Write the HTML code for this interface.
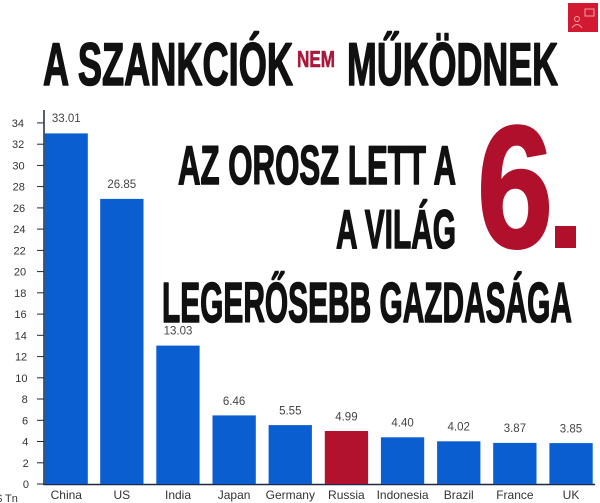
<!DOCTYPE html>
<html>
<head>
<meta charset="utf-8">
<style>
  html, body { margin: 0; padding: 0; background: #ffffff; }
  body { width: 600px; height: 503px; overflow: hidden; }
  svg { display: block; }
  .big { font-family: "Liberation Sans", "DejaVu Sans", sans-serif; font-weight: bold; }
  .lbl { font-family: "Liberation Sans", "DejaVu Sans", sans-serif; }
</style>
</head>
<body>
<svg width="600" height="503" viewBox="0 0 600 503" xmlns="http://www.w3.org/2000/svg">
  <rect width="600" height="503" fill="#ffffff"/>

  <!-- Top-right red icon -->
  <rect x="568" y="3" width="30" height="29" fill="#d11a31"/>
  <rect x="585" y="9" width="9" height="7" fill="none" stroke="#f0a0a8" stroke-width="1"/>
  <circle cx="577" cy="19" r="2.5" fill="none" stroke="#f0a0a8" stroke-width="1"/>
  <path d="M572 28 q5 -7 10 0" fill="none" stroke="#f0a0a8" stroke-width="1"/>

  <!-- Title -->
  <text class="big" x="43" y="85" font-size="60" textLength="250" lengthAdjust="spacingAndGlyphs" fill="#111" stroke="#111" stroke-width="1.6" stroke-linejoin="round">A SZANKCIÓK</text>
  <text class="big" x="297" y="67" font-size="23" textLength="38" lengthAdjust="spacingAndGlyphs" fill="#a8183a" stroke="#a8183a" stroke-width="0.6">NEM</text>
  <text class="big" x="347" y="85" font-size="60" textLength="211" lengthAdjust="spacingAndGlyphs" fill="#111" stroke="#111" stroke-width="1.6" stroke-linejoin="round">MŰKÖDNEK</text>

  <!-- Axes -->
  <line x1="44" y1="110" x2="44" y2="485" stroke="#1b2a41" stroke-width="1.5"/>
  <line x1="43.5" y1="484.5" x2="595" y2="484.5" stroke="#1b2a41" stroke-width="1.5"/>

  <!-- Y ticks & labels -->
  <g class="lbl" font-size="11" fill="#333" text-anchor="end">
    <line x1="37" y1="484" x2="44" y2="484" stroke="#1b2a41" stroke-width="1"/><text x="29" y="488">0</text>
    <line x1="37" y1="462.8" x2="44" y2="462.8" stroke="#1b2a41" stroke-width="1"/><text x="28.7" y="466.8">2</text>
    <line x1="37" y1="441.5" x2="44" y2="441.5" stroke="#1b2a41" stroke-width="1"/><text x="28.4" y="445.5">4</text>
    <line x1="37" y1="420.3" x2="44" y2="420.3" stroke="#1b2a41" stroke-width="1"/><text x="28.1" y="424.3">6</text>
    <line x1="37" y1="399" x2="44" y2="399" stroke="#1b2a41" stroke-width="1"/><text x="27.8" y="403">8</text>
    <line x1="37" y1="377.8" x2="44" y2="377.8" stroke="#1b2a41" stroke-width="1"/><text x="27.5" y="381.8">10</text>
    <line x1="37" y1="356.6" x2="44" y2="356.6" stroke="#1b2a41" stroke-width="1"/><text x="27.2" y="360.6">12</text>
    <line x1="37" y1="335.3" x2="44" y2="335.3" stroke="#1b2a41" stroke-width="1"/><text x="26.9" y="339.3">14</text>
    <line x1="37" y1="314.1" x2="44" y2="314.1" stroke="#1b2a41" stroke-width="1"/><text x="26.6" y="318.1">16</text>
    <line x1="37" y1="292.8" x2="44" y2="292.8" stroke="#1b2a41" stroke-width="1"/><text x="26.4" y="296.8">18</text>
    <line x1="37" y1="271.6" x2="44" y2="271.6" stroke="#1b2a41" stroke-width="1"/><text x="26.1" y="275.6">20</text>
    <line x1="37" y1="250.4" x2="44" y2="250.4" stroke="#1b2a41" stroke-width="1"/><text x="25.8" y="254.4">22</text>
    <line x1="37" y1="229.1" x2="44" y2="229.1" stroke="#1b2a41" stroke-width="1"/><text x="25.5" y="233.1">24</text>
    <line x1="37" y1="207.9" x2="44" y2="207.9" stroke="#1b2a41" stroke-width="1"/><text x="25.2" y="211.9">26</text>
    <line x1="37" y1="186.6" x2="44" y2="186.6" stroke="#1b2a41" stroke-width="1"/><text x="24.9" y="190.6">28</text>
    <line x1="37" y1="165.4" x2="44" y2="165.4" stroke="#1b2a41" stroke-width="1"/><text x="24.6" y="169.4">30</text>
    <line x1="37" y1="144.2" x2="44" y2="144.2" stroke="#1b2a41" stroke-width="1"/><text x="24.3" y="148.2">32</text>
    <line x1="37" y1="122.9" x2="44" y2="122.9" stroke="#1b2a41" stroke-width="1"/><text x="24" y="126.9">34</text>
  </g>
  <text class="lbl" x="-4" y="502" font-size="11" fill="#333">$ Tn</text>

  <!-- Bars -->
  <g>
    <rect x="44.8" y="133.4" width="43" height="350.6" fill="#0b5ed0"/>
    <rect x="100.2" y="198.9" width="43.3" height="285.1" fill="#0b5ed0"/>
    <rect x="156.3" y="345.6" width="43.3" height="138.4" fill="#0b5ed0"/>
    <rect x="212.5" y="415.4" width="43.3" height="68.6" fill="#0b5ed0"/>
    <rect x="268.6" y="425.1" width="43.3" height="58.9" fill="#0b5ed0"/>
    <rect x="324.8" y="431" width="43.3" height="53" fill="#b3122e"/>
    <rect x="380.9" y="437.3" width="43.3" height="46.7" fill="#0b5ed0"/>
    <rect x="437.1" y="441.3" width="43.3" height="42.7" fill="#0b5ed0"/>
    <rect x="493.2" y="442.9" width="43.3" height="41.1" fill="#0b5ed0"/>
    <rect x="549.4" y="443.1" width="43.3" height="40.9" fill="#0b5ed0"/>
  </g>

  <!-- Value labels -->
  <g class="lbl" font-size="11.5" fill="#444" text-anchor="middle">
    <text x="66.3" y="122">33.01</text>
    <text x="121.8" y="188">26.85</text>
    <text x="178" y="334.6">13.03</text>
    <text x="234.1" y="405">6.46</text>
    <text x="290.3" y="414.5">5.55</text>
    <text x="346.4" y="420.3">4.99</text>
    <text x="402.6" y="426.5">4.40</text>
    <text x="458.7" y="430.4">4.02</text>
    <text x="514.9" y="432">3.87</text>
    <text x="571" y="432.3">3.85</text>
  </g>

  <!-- Category labels -->
  <g class="lbl" font-size="12" fill="#333" text-anchor="middle">
    <text x="66.3" y="499">China</text>
    <text x="121.8" y="499">US</text>
    <text x="178" y="499">India</text>
    <text x="234.1" y="499">Japan</text>
    <text x="290.3" y="499">Germany</text>
    <text x="346.4" y="499">Russia</text>
    <text x="402.6" y="499">Indonesia</text>
    <text x="458.7" y="499">Brazil</text>
    <text x="514.9" y="499">France</text>
    <text x="571" y="499">UK</text>
  </g>

  <!-- Overlay headline text -->
  <text class="big" x="178" y="184" font-size="55" textLength="278" lengthAdjust="spacingAndGlyphs" fill="#111" stroke="#111" stroke-width="1.6" stroke-linejoin="round">AZ OROSZ LETT A</text>
  <text class="big" x="336" y="248" font-size="55" textLength="120" lengthAdjust="spacingAndGlyphs" fill="#111" stroke="#111" stroke-width="1.6" stroke-linejoin="round">A VILÁG</text>
  <text class="big" x="162" y="322" font-size="57" textLength="410" lengthAdjust="spacingAndGlyphs" fill="#111" stroke="#111" stroke-width="1.6" stroke-linejoin="round">LEGERŐSEBB GAZDASÁGA</text>

  <!-- Big red 6. -->
  <text class="big" x="477" y="247" font-size="174" textLength="76" lengthAdjust="spacingAndGlyphs" fill="#b0102c" stroke="#b0102c" stroke-width="2.5" stroke-linejoin="round">6</text>
  <rect x="555" y="226" width="21" height="22" fill="#b0102c"/>
</svg>
</body>
</html>
